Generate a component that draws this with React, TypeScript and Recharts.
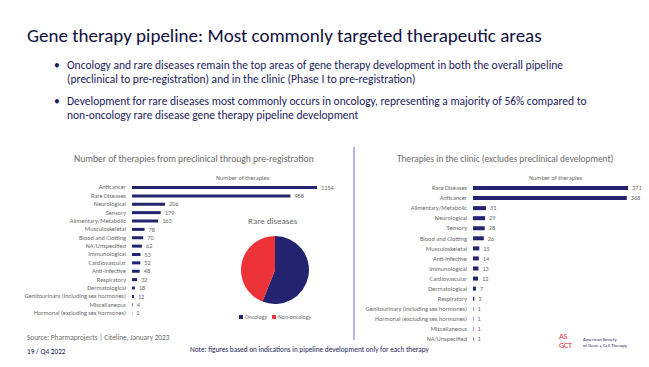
import React from 'react';
import {
  Bar,
  BarChart,
  Cell,
  LabelList,
  Pie,
  PieChart,
  XAxis,
  YAxis,
} from 'recharts';

const pipelineAreas = [
  'Anticancer',
  'Rare Diseases',
  'Neurological',
  'Sensory',
  'Alimentary/Metabolic',
  'Musculoskeletal',
  'Blood and Clotting',
  'NA/Unspecified',
  'Immunological',
  'Cardiovascular',
  'Anti-infective',
  'Respiratory',
  'Dermatological',
  'Genitourinary (including sex hormones)',
  'Miscellaneous',
  'Hormonal (excluding sex hormones)',
];
const pipelineCounts = [1154, 988, 206, 179, 163, 78, 70, 62, 53, 52, 48, 32, 18, 12, 4, 1];

const clinicAreas = [
  'Rare Diseases',
  'Anticancer',
  'Alimentary/Metabolic',
  'Neurological',
  'Sensory',
  'Blood and Clotting',
  'Musculoskeletal',
  'Anti-infective',
  'Immunological',
  'Cardiovascular',
  'Dermatological',
  'Respiratory',
  'Genitourinary (including sex hormones)',
  'Hormonal (excluding sex hormones)',
  'Miscellaneous',
  'NA/Unspecified',
];
const clinicCounts = [371, 368, 31, 29, 28, 26, 15, 14, 13, 12, 7, 3, 1, 1, 1, 1];

const rareLabels = ['Oncology', 'Non-oncology'];
const rareShares = [56, 44];
const rareColors = ['#23236f', '#ee3338'];

const NAVY = '#23236f';
const GREY = '#6b6b6b';
const FONT = 'Carlito, Lato, "Liberation Sans", sans-serif';

const pipelineData = pipelineAreas.map((area, i) => ({ area, value: pipelineCounts[i] }));
const clinicData = clinicAreas.map((area, i) => ({ area, value: clinicCounts[i] }));
const rareData = rareLabels.map((name, i) => ({ name, value: rareShares[i] }));

// plain svg text so long category names stay on one line
function AreaTick(props: any) {
  const { x, y, payload } = props;
  return (
    <text x={x} y={y} dy={2.2} textAnchor="end" fill={GREY} fontSize={6.3} fontFamily={FONT}>
      {payload.value}
    </text>
  );
}

function AreaBars({
  data,
  width,
  height,
  max,
  barSize,
  right,
}: {
  data: { area: string; value: number }[];
  width: number;
  height: number;
  max: number;
  barSize: number;
  right: number;
}) {
  return (
    <BarChart
      data={data}
      height={height}
      layout="vertical"
      margin={{ top: 0, right, bottom: 0, left: 0 }}
      width={width}
    >
      <XAxis domain={[0, max]} hide type="number" />
      <YAxis
        axisLine={false}
        dataKey="area"
        interval={0}
        tick={<AreaTick />}
        tickLine={false}
        tickMargin={6}
        tickSize={0}
        type="category"
        width={132}
      />
      <Bar barSize={barSize} dataKey="value" fill={NAVY} isAnimationActive={false}>
        <LabelList
          dataKey="value"
          fill={GREY}
          fontFamily={FONT}
          fontSize={6.3}
          offset={4}
          position="right"
        />
      </Bar>
    </BarChart>
  );
}

export default function App() {
  return (
    <div
      style={{
        position: 'absolute',
        left: 0,
        top: 0,
        width: 649,
        height: 367,
        background: '#fff',
        fontFamily: FONT,
        overflow: 'hidden',
      }}
    >
      <div style={{ position: 'absolute', left: 27, top: 24, fontSize: 19, color: '#10103f', whiteSpace: 'nowrap' }}>
        Gene therapy pipeline: Most commonly targeted therapeutic areas
      </div>

      <div style={{ position: 'absolute', left: 54, top: 58, fontSize: 11.5, lineHeight: '14px', color: '#1c1c5c', width: 595 }}>
        <div style={{ display: 'flex' }}>
          <span style={{ width: 13, flex: 'none' }}>•</span>
          <span style={{ whiteSpace: 'nowrap' }}>
            Oncology and rare diseases remain the top areas of gene therapy development in both the overall pipeline
            <br />
            (preclinical to pre-registration) and in the clinic (Phase I to pre-registration)
          </span>
        </div>
        <div style={{ display: 'flex', marginTop: 8 }}>
          <span style={{ width: 13, flex: 'none' }}>•</span>
          <span style={{ whiteSpace: 'nowrap' }}>
            Development for rare diseases most commonly occurs in oncology, representing a majority of 56% compared to
            <br />
            non-oncology rare disease gene therapy pipeline development
          </span>
        </div>
      </div>

      {/* left: whole pipeline */}
      <div style={{ position: 'absolute', left: 74, top: 153, fontSize: 9.6, color: GREY, whiteSpace: 'nowrap' }}>
        Number of therapies from preclinical through pre-registration
      </div>
      <div style={{ position: 'absolute', left: 216, top: 174, fontSize: 6.3, color: GREY }}>Number of therapies</div>
      <div style={{ position: 'absolute', left: 0, top: 183 }}>
        <AreaBars barSize={3} data={pipelineData} height={134} max={1154} right={28} width={345} />
      </div>

      <div style={{ position: 'absolute', left: 248, top: 215, fontSize: 9, color: GREY }}>Rare diseases</div>
      <div style={{ position: 'absolute', left: 235, top: 230 }}>
        <PieChart height={80} margin={{ top: 0, right: 0, bottom: 0, left: 0 }} width={80}>
          <Pie
            cx={40}
            cy={40}
            data={rareData}
            dataKey="value"
            endAngle={-270}
            isAnimationActive={false}
            outerRadius={34}
            startAngle={90}
            stroke="none"
          >
            {rareData.map((d, i) => (
              <Cell fill={rareColors[i]} key={d.name} />
            ))}
          </Pie>
        </PieChart>
      </div>
      <div style={{ position: 'absolute', left: 239, top: 313, fontSize: 5.8, color: GREY, display: 'flex', gap: 5, whiteSpace: 'nowrap' }}>
        {rareLabels.map((label, i) => (
          <span key={label} style={{ display: 'flex', alignItems: 'center', gap: 2 }}>
            <span style={{ width: 4, height: 4, background: rareColors[i], display: 'inline-block' }} />
            {label}
          </span>
        ))}
      </div>

      <div style={{ position: 'absolute', left: 353, top: 147, width: 2, height: 193, background: '#b8b8e8' }} />

      {/* right: clinic */}
      <div style={{ position: 'absolute', left: 397, top: 153, fontSize: 9.4, color: GREY, whiteSpace: 'nowrap' }}>
        Therapies in the clinic (excludes preclinical development)
      </div>
      <div style={{ position: 'absolute', left: 529, top: 174, fontSize: 6.3, color: GREY }}>Number of therapies</div>
      <div style={{ position: 'absolute', left: 341, top: 183 }}>
        <AreaBars barSize={4} data={clinicData} height={161} max={371} right={13} width={300} />
      </div>

      {/* footer */}
      <div style={{ position: 'absolute', left: 27, top: 333, fontSize: 7.3, color: GREY }}>
        Source: Pharmaprojects | Citeline, January 2023
      </div>
      <div style={{ position: 'absolute', left: 27, top: 347, fontSize: 7.3, color: '#1c1c5c' }}>19 / Q4 2022</div>
      <div style={{ position: 'absolute', left: 190, top: 345, fontSize: 7.3, color: '#1c1c5c', whiteSpace: 'nowrap' }}>
        Note: figures based on indications in pipeline development only for each therapy
      </div>
      <div style={{ position: 'absolute', left: 559, top: 332, fontSize: 8.5, color: '#ee3338', lineHeight: '9px', letterSpacing: -0.5 }}>
        AS
        <br />
        GCT
      </div>
      <div style={{ position: 'absolute', left: 583, top: 336, fontSize: 4.8, color: '#2a2a6a', lineHeight: '6px', whiteSpace: 'nowrap' }}>
        American Society
        <br />
        of Gene + Cell Therapy
      </div>
    </div>
  );
}
